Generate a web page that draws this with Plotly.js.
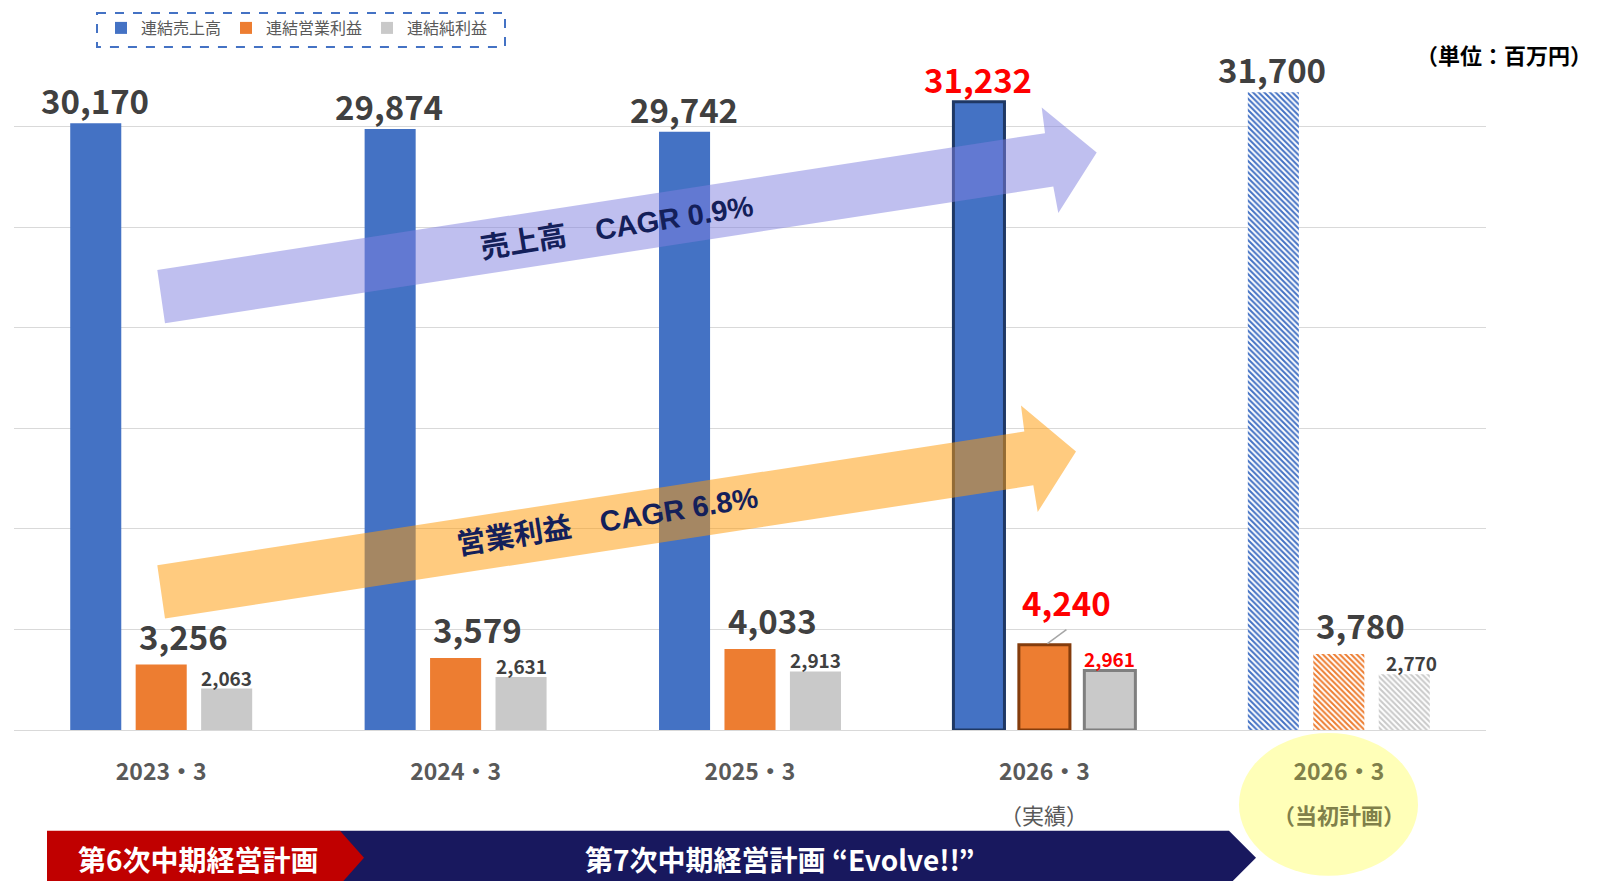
<!DOCTYPE html>
<html>
<head>
<meta charset="utf-8">
<script src="https://cdn.plot.ly/plotly-3.0.1.min.js"></script>
<style>
  html, body { margin: 0; padding: 0; background: #ffffff; }
  #chart { width: 1600px; height: 881px; }
</style>
</head>
<body>
<div id="chart"></div>
<script>
// ---- data ----
const categories = ["2023・3", "2024・3", "2025・3", "2026・3（実績）", "2026・3（当初計画）"];
const tickLabels = ["2023・3", "2024・3", "2025・3", "2026・3", "2026・3"];
const subLabels = ["", "", "", "（実績）", "（当初計画）"];
const seriesNames = ["連結売上高", "連結営業利益", "連結純利益"];
const sales = [30170, 29874, 29742, 31232, 31700];
const operatingIncome = [3256, 3579, 4033, 4240, 3780];
const netIncome = [2063, 2631, 2913, 2961, 2770];
const arrowTexts = ["売上高　CAGR 0.9%", "営業利益　CAGR 6.8%"];
const planTexts = ["第6次中期経営計画", "第7次中期経営計画 “Evolve!!”"];
const unitText = "（単位：百万円）";

const ACTUAL = 3;   // highlighted actual result
const PLAN = 4;     // initial plan (hatched)

// ---- layout geometry ----
const M = { l: 14, r: 114, t: 29, b: 151 };
const PW = 1600 - M.l - M.r, PH = 881 - M.t - M.b;
const BASE = M.t + PH;
const px = x => (x - M.l) / PW;
const py = y => (BASE - y) / PH;
const BARGAP = 0.333, GROUPGAP = 0.22;
const slot = PW / categories.length * (1 - BARGAP) / 3;

const colors = ["#4472C4", "#ED7D31", "#C9C9C9"];
const outline = ["#1F3864", "#843C0C", "#7F7F7F"];
const groups = ["sales", "op", "net"];
const FONT = "Noto Sans CJK JP, Noto Sans, sans-serif";

const traces = [];
[sales, operatingIncome, netIncome].forEach((values, k) => {
  const idx = values.map((v, i) => i).filter(i => i !== PLAN);
  traces.push({
    type: "bar", name: seriesNames[k], offsetgroup: groups[k], legendgroup: groups[k],
    x: idx.map(i => categories[i]), y: idx.map(i => values[i]),
    marker: {
      color: colors[k],
      line: {
        width: idx.map(i => i === ACTUAL ? 3 : 0),
        color: idx.map(i => i === ACTUAL ? outline[k] : colors[k])
      }
    },
    hoverinfo: "skip"
  });
});
[sales, operatingIncome, netIncome].forEach((values, k) => {
  traces.push({
    type: "bar", name: seriesNames[k], offsetgroup: groups[k], legendgroup: groups[k],
    showlegend: false,
    x: [categories[PLAN]], y: [values[PLAN]],
    marker: {
      color: colors[k], line: { width: 0 },
      pattern: { shape: "\\", fgcolor: colors[k], bgcolor: "#ffffff", size: 4, solidity: 0.5, fillmode: "replace" }
    },
    hoverinfo: "skip"
  });
});

const fmt = v => v.toLocaleString("en-US");
const annotations = [];

sales.forEach((v, i) => annotations.push({
  x: categories[i], y: v, xref: "x", yref: "y", text: fmt(v), showarrow: false,
  xanchor: "center", yanchor: "bottom", xshift: -slot - 1, yshift: -3,
  font: { family: FONT, size: 33, weight: "bold", color: i === ACTUAL ? "#FF0000" : "#404040" }
}));
operatingIncome.forEach((v, i) => annotations.push({
  x: categories[i], y: v, xref: "x", yref: "y", text: fmt(v), showarrow: false,
  xanchor: "center", yanchor: "bottom", xshift: 22, yshift: i === ACTUAL ? 17 : 3,
  font: { family: FONT, size: 33, weight: "bold", color: i === ACTUAL ? "#FF0000" : "#404040" }
}));
netIncome.forEach((v, i) => annotations.push({
  x: categories[i], y: v, xref: "x", yref: "y", text: fmt(v), showarrow: false,
  xanchor: "center", yanchor: "bottom", xshift: slot + (i === PLAN ? 7 : 0), yshift: -4,
  font: { family: FONT, size: 19, weight: "bold", color: i === ACTUAL ? "#FF0000" : "#404040" }
}));

// second line of category labels
subLabels.forEach((s, i) => {
  if (!s) return;
  annotations.push({
    x: categories[i], y: py(814), xref: "x", yref: "paper", text: s, showarrow: false,
    xanchor: "center", yanchor: "middle",
    font: { family: FONT, size: 22, weight: i === PLAN ? "bold" : "normal",
            color: i === PLAN ? "#80804A" : "#595959" }
  });
});

// arrow captions
annotations.push({
  x: px(617), y: py(226), xref: "paper", yref: "paper", text: arrowTexts[0], showarrow: false,
  xanchor: "center", yanchor: "middle",
  textangle: -9, font: { family: "Liberation Sans, " + FONT, size: 29, weight: "bold", color: "#14205A" }
});
annotations.push({
  x: px(607), y: py(521), xref: "paper", yref: "paper", text: arrowTexts[1], showarrow: false,
  xanchor: "center", yanchor: "middle",
  textangle: -9, font: { family: "Liberation Sans, " + FONT, size: 29, weight: "bold", color: "#14205A" }
});

// plan banners text
annotations.push({
  x: px(199), y: py(859), xref: "paper", yref: "paper", text: planTexts[0], showarrow: false,
  xanchor: "center", yanchor: "middle",
  font: { family: FONT, size: 28, weight: "bold", color: "#ffffff" }
});
annotations.push({
  x: px(780), y: py(859), xref: "paper", yref: "paper", text: planTexts[1], showarrow: false,
  xanchor: "center", yanchor: "middle",
  font: { family: FONT, size: 28, weight: "bold", color: "#ffffff" }
});

// unit
annotations.push({
  x: px(1414), y: py(53), xref: "paper", yref: "paper", text: unitText, showarrow: false,
  xanchor: "left", yanchor: "middle",
  font: { family: FONT, size: 22, weight: "bold", color: "#000000" }
});

function pathFrom(pts) {
  return "M " + pts.map(p => px(p[0]).toFixed(5) + "," + py(p[1]).toFixed(5)).join(" L ") + " Z";
}

const shapes = [
  // plan highlight ellipse
  { type: "circle", xref: "paper", yref: "paper", layer: "below",
    x0: px(1239), x1: px(1418), y0: py(733), y1: py(876),
    fillcolor: "#FFFFB8", line: { width: 0 } },
  // 7th plan banner
  { type: "path", xref: "paper", yref: "paper", layer: "below",
    path: pathFrom([[330, 831], [1229, 831], [1256, 858], [1229, 885], [330, 885]]),
    fillcolor: "#18185E", line: { width: 0 } },
  // 6th plan banner
  { type: "path", xref: "paper", yref: "paper", layer: "below",
    path: pathFrom([[47, 831], [340, 831], [364, 858], [340, 885], [47, 885]]),
    fillcolor: "#C00000", line: { width: 0 } },
  // sales CAGR arrow
  { type: "path", xref: "paper", yref: "paper", layer: "above",
    path: pathFrom([[157.3, 269.3], [1045, 132.3], [1041.7, 106.7], [1096.7, 151.7], [1058.3, 212.3], [1053.3, 185.7], [165, 322.7]]),
    fillcolor: "rgba(128,128,224,0.5)", line: { width: 0 } },
  // operating income CAGR arrow
  { type: "path", xref: "paper", yref: "paper", layer: "above",
    path: pathFrom([[157.3, 565], [1024.3, 431], [1021, 405], [1076, 451], [1037.7, 511.7], [1033.3, 485], [165, 618.3]]),
    fillcolor: "rgba(255,155,10,0.52)", line: { width: 0 } },
  // leader line for the highlighted operating income label
  { type: "line", xref: "x", yref: "y", layer: "above",
    xsizemode: "pixel", xanchor: categories[ACTUAL], x0: 3, x1: 22,
    ysizemode: "pixel", yanchor: operatingIncome[ACTUAL], y0: 1, y1: 15,
    line: { color: "#A6A6A6", width: 1.5 } },
  // legend dashed frame
  { type: "rect", xref: "paper", yref: "paper", layer: "above",
    x0: px(97), x1: px(505), y0: py(12), y1: py(46),
    line: { color: "#4472C4", width: 2, dash: "dash" }, fillcolor: "rgba(0,0,0,0)" }
];

const tickText = tickLabels.map((t, i) =>
  i === PLAN ? "<span style='color:#80804A'>" + t + "</span>" : t);

const layout = {
  width: 1600, height: 881,
  margin: M,
  paper_bgcolor: "#ffffff", plot_bgcolor: "#ffffff",
  font: { family: FONT, color: "#595959" },
  barmode: "group", bargap: BARGAP, bargroupgap: GROUPGAP,
  showlegend: true,
  legend: {
    orientation: "h", x: px(101), y: py(28), xanchor: "left", yanchor: "middle",
    font: { family: FONT, size: 16, color: "#595959" }, bgcolor: "rgba(0,0,0,0)",
    traceorder: "normal"
  },
  xaxis: {
    type: "category", categoryorder: "array", categoryarray: categories,
    tickvals: categories, ticktext: tickText,
    tickfont: { family: FONT, size: 23, weight: "bold", color: "#595959" },
    ticks: "", ticklabelstandoff: 26, showgrid: false, zeroline: false,
    showline: false, fixedrange: true
  },
  yaxis: {
    range: [0, 34800], dtick: 5000, showticklabels: false, showgrid: true,
    gridcolor: "#D9D9D9", gridwidth: 1, zeroline: true, zerolinecolor: "#D9D9D9",
    zerolinewidth: 1, showline: false, ticks: "", fixedrange: true
  },
  annotations: annotations,
  shapes: shapes
};

Plotly.newPlot("chart", traces, layout, { displayModeBar: false, staticPlot: true });
</script>
</body>
</html>
